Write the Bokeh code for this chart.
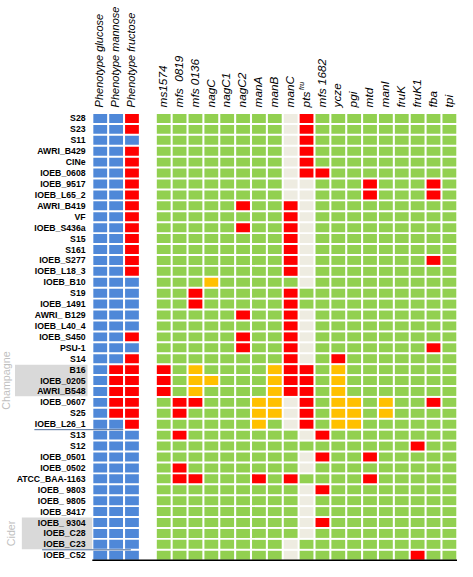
import math
from bokeh.plotting import figure
from bokeh.models import ColumnDataSource, Range1d
from bokeh.core.properties import value
from bokeh.embed import file_html
from bokeh.resources import INLINE

# ---------------- data ----------------
strains = ["S28", "S23", "S11", "AWRI_B429", "CINe", "IOEB_0608", "IOEB_9517", "IOEB_L65_2",
           "AWRI_B419", "VF", "IOEB_S436a", "S15", "S161", "IOEB_S277", "IOEB_L18_3", "IOEB_B10",
           "S19", "IOEB_1491", "AWRI_ B129", "IOEB_L40_4", "IOEB_S450", "PSU-1", "S14", "B16",
           "IOEB_0205", "AWRI_B548", "IOEB_0607", "S25", "IOEB_L26_1", "S13", "S12", "IOEB_0501",
           "IOEB_0502", "ATCC_BAA-1163", "IOEB_ 9803", "IOEB_ 9805", "IOEB_8417", "IOEB_ 9304",
           "IOEB_C28", "IOEB_C23", "IOEB_C52"]

phenotype_labels = ["Phenotype glucose", "Phenotype mannose", "Phenotype fructose"]
# b = blue, r = red  (rows in groups of ten)
phenotype_glucose = "bbbbbbbbbb bbbbbbbbbb bbbbbbbbbb bbbbbbbbbb b"
phenotype_mannose = "bbbbbbbbbb bbbbbbbbbb bbbrrrrrbb bbbbbbbbbb b"
phenotype_fructose = "rrbrrrrrrr rrrrrbbbbb rbrrrrrrrb bbbbbbbbbb b"

gene_labels = ["ms1574", "mfs\u00a0\u00a00819", "mfs 0136", "nagC", "nagC1", "nagC2", "manA",
               "manB", "manC", "pts", "mfs 1682", "ycze", "pgi", "mtd", "manI", "fruK",
               "fruK1", "fba", "tpi"]
# g = green, r = red, o = orange, w = grey
ms1574 = "gggggggggg gggggggggg gggrrrgggg gggggggggg g"
mfs0819 = "gggggggggg gggggggggg ggggggrrgr ggrrgggggg g"
mfs0136 = "gggggggggg ggggggrrgg gggooorggg gggrgggggg g"
nagC = "gggggggggg gggggogggg ggggoggggg gggggggggg g"
nagC1 = "gggggggggg gggggggggg gggggggggg gggggggggg g"
nagC2 = "ggggggggrg rgggggggrg rrgggggggg gggggggggg g"
manA = "gggggggggg gggggggggg ggggggooog gggrgggggg g"
manB = "gggggggggg gggggggggg gggooooogg gggggggggg g"
manC = "wwwwwwwwrr rrrrrgrrrr rrrrrrwwwg gggrgggggw w"
pts_fru = "rrrrrrwwww wwwwwwggww wwwrrrrrrw gwwgwwwwwg g"
mfs1682 = "gggggrgggg gggggggggg gggggggggr grggrggrgg g"
ycze = "gggggggggg gggggggggg ggroooooog gggggggggg g"
pgi = "gggggggggg gggggggggg ggggggooog gggggggggg g"
mtd = "ggggggrrgg gggggggggg gggggggggg grgrgggggg g"
manI = "gggggggggg gggggggggg ggggggoogg gggggggggg g"
fruK = "gggggggggg gggggggggg gggggggggg gggggggggg g"
fruK1 = "gggggggggg gggggggggg gggggggggg rggggggggg r"
fba = "ggggggrrgg gggrgggggg grggggrggg gggggggggg g"
tpi = "gggggggggg gggggggggg gggggggggg gggggggggg g"

groups = ["Champagne", "Cider"]
group_first = ["B16", "IOEB_ 9304"]
group_last = ["AWRI_B548", "IOEB_C23"]
separator_after = ["IOEB_L26_1", "IOEB_C23"]

# ---------------- layout / style ----------------
W, H = 457, 561
X0, PX = 91.8, 15.87      # px of slot 0 edge, px per column slot
Y0, PY = 112.5, 10.92     # px of row 0 edge, px per row
FONT = value("Liberation Sans")
palette = {"g": "#92d050", "r": "#ff0000", "o": "#ffc000", "w": "#eeece1", "b": "#4f88d8"}

p = figure(width=W, height=H, output_backend="svg", toolbar_location=None,
           x_range=Range1d(-X0 / PX, (W - X0) / PX),
           y_range=Range1d((H - Y0) / PY, -Y0 / PY),
           x_axis_location=None, y_axis_location=None, min_border=0)
p.grid.visible = False
p.outline_line_color = None
p.background_fill_color = "white"
p.border_fill_color = "white"

def clean(s):
    return s.replace(" ", "")

columns = [phenotype_glucose, phenotype_mannose, phenotype_fructose]
slots = [0, 1, 2]
genes = [ms1574, mfs0819, mfs0136, nagC, nagC1, nagC2, manA, manB, manC, pts_fru,
         mfs1682, ycze, pgi, mtd, manI, fruK, fruK1, fba, tpi]
columns += genes
slots += [4 + j for j in range(len(genes))]

xs, ys, cs = [], [], []
for col, s in zip(columns, slots):
    for r, code in enumerate(clean(col)):
        xs.append(s + 0.5)
        ys.append(r + 0.5)
        cs.append(palette[code])

# group shading behind labels
for g, a, b in zip(groups, group_first, group_last):
    ra, rb = strains.index(a), strains.index(b)
    left = -4.87 if g == "Champagne" else -4.44
    right = -0.30 if g == "Champagne" else 0.0
    p.quad(left=[left], right=[right], top=[ra + 0.05], bottom=[rb + 1 - 0.05],
           fill_color="#d9d9d9", line_color=None)
    p.text(x=[-5.42 if g == "Champagne" else -5.11], y=[(ra + rb + 1) / 2], text=[g],
           angle=math.pi / 2, text_align="center", text_baseline="middle",
           text_font=FONT, text_font_size="10.7px", text_color="#bfbfbf")

src = ColumnDataSource(dict(x=xs, y=ys, c=cs))
p.rect(x="x", y="y", width=0.87, height=0.82, source=src, fill_color="c", line_color=None)

# row labels
p.text(x=[-0.426] * len(strains), y=[r + 0.5 for r in range(len(strains))], text=strains,
       text_align="right", text_baseline="middle", text_font=FONT,
       text_font_style="bold", text_font_size="8.7px", text_color="black")

# column headers
p.text(x=[s + 0.45 for s in slots[:3]], y=[-0.51] * 3, text=phenotype_labels,
       angle=math.pi / 2, text_align="left", text_baseline="middle", text_font=FONT,
       text_font_style="italic", text_font_size="11px", text_color="black")
p.text(x=[s + 0.45 for s in slots[3:]], y=[-0.51] * len(gene_labels), text=gene_labels,
       angle=math.pi / 2, text_align="left", text_baseline="middle", text_font=FONT,
       text_font_style="italic", text_font_size="11.8px", text_color="black")
pts_slot = slots[3 + gene_labels.index("pts")]
p.text(x=[pts_slot + 0.2], y=[-2.1], text=["fru"], angle=math.pi / 2,
       text_align="left", text_baseline="middle", text_font=FONT,
       text_font_style="italic", text_font_size="7px", text_color="black")

# separator lines
for name in separator_after:
    r = strains.index(name) + 1
    x0 = -3.65 if name == "IOEB_L26_1" else -3.16
    x1 = 1.95 if name == "IOEB_L26_1" else 2.43
    p.segment(x0=[x0], y0=[r], x1=[x1], y1=[r], line_color="#4a6a96", line_width=1)

# bottom rule
p.segment(x0=[0], y0=[len(strains) - 0.04], x1=[23], y1=[len(strains) - 0.04],
          line_color="black", line_width=1.5)

open("out.html", "w").write(file_html(p, INLINE))
